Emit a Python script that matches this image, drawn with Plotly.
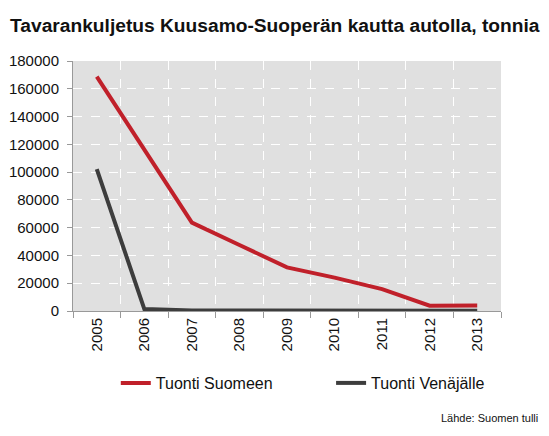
import plotly.graph_objects as go

years = ["2005", "2006", "2007", "2008", "2009", "2010", "2011", "2012", "2013"]
tuonti_suomeen = [168700, 116500, 63600, 47500, 31400, 24000, 15800, 3800, 3900]
tuonti_venajalle = [102200, 1400, 400, 300, 300, 200, 300, 200, 200]
series_names = ["Tuonti Suomeen", "Tuonti Venäjälle"]
y_ticks = [0, 20000, 40000, 60000, 80000, 100000, 120000, 140000, 160000, 180000]

FONT = "Liberation Sans, Arial, Helvetica, sans-serif"

fig = go.Figure()
fig.add_trace(go.Scatter(x=years, y=tuonti_suomeen, mode="lines", name=series_names[0],
                         line=dict(color="#c0202a", width=4), legend="legend"))
fig.add_trace(go.Scatter(x=years, y=tuonti_venajalle, mode="lines", name=series_names[1],
                         line=dict(color="#3d3d3d", width=4), legend="legend2"))

leg_common = dict(orientation="h", y=-0.288, xanchor="left", yanchor="middle",
                  font=dict(size=16, family=FONT, color="#111111"),
                  bgcolor="rgba(0,0,0,0)")

# page has an 8px body margin, so the figure is drawn smaller to fit without scrolling
fig.update_layout(
    width=533, height=420,
    margin=dict(l=65, r=40, t=53, b=117, autoexpand=False),
    paper_bgcolor="white",
    plot_bgcolor="#e0e0e0",
    font=dict(family=FONT, size=15, color="#111111"),
    showlegend=True,
    legend=dict(x=0.100, **leg_common),
    legend2=dict(x=0.603, **leg_common),
    annotations=[
        dict(text="<b>Tavarankuljetus Kuusamo-Suoperän kautta autolla, tonnia</b>",
             xref="paper", yref="paper", x=-0.1519, y=1.0, yshift=36,
             xanchor="left", yanchor="middle", showarrow=False,
             font=dict(size=19.2, family=FONT, color="#111111")),
        dict(text="Lähde: Suomen tulli", xref="paper", yref="paper",
             x=1.0, y=0, xshift=39, yshift=-107, xanchor="right", yanchor="middle",
             showarrow=False, font=dict(size=11, family=FONT, color="#111111")),
    ],
)

fig.update_xaxes(
    type="category", tickson="boundaries", tickangle=-90, automargin=False,
    showgrid=True, gridcolor="white", griddash="dash", gridwidth=1,
    showline=True, linecolor="#999999", linewidth=1,
    ticks="outside", ticklen=6, tickcolor="#999999",
    range=[-0.5, 8.5], tickfont=dict(size=15),
)
fig.update_yaxes(
    range=[0, 180000], tickvals=y_ticks, ticktext=[str(v) for v in y_ticks],
    automargin=False, ticklabelstandoff=5,
    showgrid=True, gridcolor="white", griddash="dash", gridwidth=1,
    showline=True, linecolor="#999999", linewidth=1,
    ticks="outside", ticklen=5, tickcolor="#999999",
    zeroline=False, tickfont=dict(size=15),
)

fig.write_html("out.html")
